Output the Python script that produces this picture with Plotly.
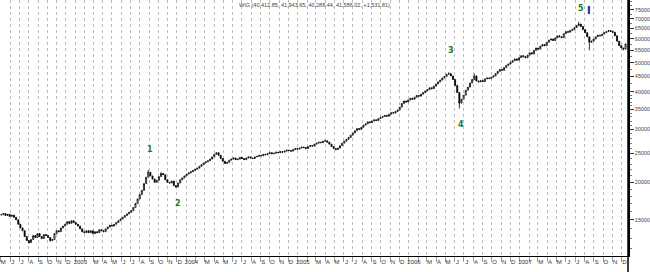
import numpy as np
import pandas as pd
import plotly.graph_objects as go

# Weekly closing values (WIG index)
close = [
    15600, 15750, 15500, 15650, 15400, 15550, 15300,
    15000, 14500, 14100, 13800,
    13200, 12800, 12600, 12900,
    13300, 13100, 13500, 13200, 13000, 13400, 13300, 13100,
    12800, 12900,
    13500, 13800, 13700, 14100, 14300, 14500,
    14800, 14600, 14900, 14700, 14500, 14300,
    14000, 13700, 13600, 13800,
    13600, 13800, 13500, 13700, 13600, 13900, 13800, 13700, 14000,
    14200, 14400, 14300,
    14500, 14700, 14900, 15100, 15300, 15500, 15700, 15900, 16100,
    16500, 17000, 17600, 18200, 18800,
    19800, 20800, 21600,
    21000, 20500, 20000, 20300,
    20900, 21400, 21200,
    20400, 20000, 19900, 20200,
    19500, 19300,
    19900, 20400, 20700,
    21000, 21300, 21500, 21700, 21900, 22100,
    22300, 22600, 22900, 23200, 23400, 23600,
    23900, 24300, 24800, 25100,
    24600, 24000, 23500,
    23100, 23300,
    23700, 23900, 24100, 23800, 23900, 24200, 24000, 23800, 24100, 24300, 24100, 24000, 24300, 24400,
    24600, 24500, 24800, 24700, 24900, 25100, 24900, 25000, 25200, 25100, 25300, 25200, 25400, 25600,
    25500, 25400, 25700, 25900, 25800,
    26000, 26200, 26100, 25900, 26300, 26500, 26400,
    26800, 27000, 27200, 27100, 27400,
    27500, 27200, 26800,
    26300, 25900, 25700, 26000,
    26500, 27000, 27400, 27800, 28200,
    28700, 29200, 29700, 30200, 30000, 30500, 31000,
    31300, 31800, 31600, 32000, 32300, 32100, 32600, 32900,
    33100, 33400, 33200, 33700, 34100, 34000, 34400,
    34800, 35600, 36600, 37300,
    37000, 37600, 38100, 37800, 38400,
    38900, 38700, 39300, 39800, 40300,
    40700, 41300, 41000, 41800,
    42500, 43200, 43800, 44500,
    45000, 45800, 46000,
    45200, 44000,
    42000, 39800, 36700, 37800,
    39000, 40500, 41500,
    42800, 44000, 45200,
    43500, 43200, 43600, 43300,
    44200, 44500, 44300, 44800, 45200,
    46000, 46800, 47500, 47200, 48200, 49000,
    49500, 50200, 50800, 51500, 51000, 52000, 52800, 52400,
    52000, 53000, 54000, 53500, 55000, 56000,
    55500, 56800, 57500, 57000, 58500, 59500,
    60000, 59300, 60500, 61500, 61000, 60600,
    62500, 63500, 63200, 64000, 64500,
    65500, 66500, 67300,
    66000, 64500,
    63000, 61000, 58500,
    59000,
    60000, 61000, 61800, 61500,
    62300, 63000, 63500, 64000, 63600,
    63200, 61500,
    59000, 57000,
    56000, 55500,
    57800,
]
# notable extreme wicks (week index -> value)
high_extremes = {69: 22000, 75: 21600, 210: 46500, 222: 46000, 271: 68500}
low_extremes = {13: 12500, 23: 12700, 82: 19200, 215: 35200, 276: 55000, 292: 55000}

start_date = "2002-05-03"
y_tick_values = [15000, 20000, 25000, 30000, 35000, 40000, 45000, 50000, 55000, 60000, 65000, 70000, 75000]
y_minor_values = list(range(12000, 40000, 1000)) + list(range(40000, 80001, 2500))
title_text = "WIG (40,412.85, 41,943.65, 40,288.44, 41,586.02, +1,531.81)"
wave_labels = [("1", 69, "high", 20), ("2", 82, "low", -16), ("3", 210, "high", 22),
               ("4", 215, "low", -16), ("5", 271, "high", 13)]

dates = pd.date_range(start_date, periods=len(close), freq="7D")
opens = [close[0]] + close[:-1]
highs = [max(o, c) for o, c in zip(opens, close)]
lows = [min(o, c) for o, c in zip(opens, close)]
for k, v in high_extremes.items():
    highs[k] = v
for k, v in low_extremes.items():
    lows[k] = v

fig = go.Figure()
fig.add_trace(go.Candlestick(
    x=dates, open=opens, high=highs, low=lows, close=close,
    increasing=dict(line=dict(color="#000000", width=0.8), fillcolor="#ffffff"),
    decreasing=dict(line=dict(color="#000000", width=0.8), fillcolor="#000000"),
    whiskerwidth=0, showlegend=False, hoverinfo="skip",
))

# month ticks / labels
months = pd.date_range("2002-05-01", "2007-12-01", freq="MS")
letters = "JFMAMJJASOND"
tick_vals, tick_text = [], []
for m in months:
    if m.month == 1:
        tick_vals.append(m + pd.Timedelta(days=17))
        tick_text.append(str(m.year))
    elif m.month == 2:
        continue
    else:
        tick_vals.append(m + pd.Timedelta(days=9))
        tick_text.append(letters[m.month - 1])

fig.update_xaxes(
    type="date", range=["2002-04-29", "2007-12-22"],
    tickmode="array", tickvals=tick_vals, ticktext=tick_text,
    ticks="", showgrid=False, showline=True, linecolor="#000000", linewidth=1,
    tickfont=dict(family="Liberation Sans, Arial", size=6, color="#333333"),
    rangeslider=dict(visible=False), zeroline=False,
    minor=dict(tickmode="array", tickvals=list(months), ticks="outside", ticklen=5,
               tickcolor="#999999", tickwidth=1, showgrid=True, gridcolor="#bdbdbd",
               griddash="dot", gridwidth=1),
)
fig.update_yaxes(
    type="log", side="right",
    range=[np.log10(11370), np.log10(80900)],
    tickmode="array", tickvals=y_tick_values, ticktext=[str(v) for v in y_tick_values],
    ticks="outside", ticklen=4, tickcolor="#333333",
    showgrid=False, showline=True, linecolor="#000000", linewidth=1.5,
    tickfont=dict(family="Liberation Sans, Arial", size=5.5, color="#444444"),
    zeroline=False,
    minor=dict(tickmode="array", tickvals=y_minor_values, ticks="outside", ticklen=2,
               tickcolor="#777777", showgrid=False),
)

annotations = [dict(text=title_text, xref="paper", yref="paper", x=0.5, y=1.0,
                    xanchor="center", yanchor="top", showarrow=False,
                    font=dict(family="Liberation Sans, Arial", size=5.5, color="#444444"))]
for txt, idx, kind, shift in wave_labels:
    val = highs[idx] if kind == "high" else lows[idx]
    annotations.append(dict(text="<b>%s</b>" % txt, x=dates[idx] + pd.Timedelta(days=7),
                            y=np.log10(val),
                            xref="x", yref="y", showarrow=False, yshift=shift,
                            font=dict(family="DejaVu Sans", size=8, color="#1b7d1b")))
annotations.append(dict(text="<b>I</b>", x=dates[276], y=0.99, xref="x", yref="paper",
                        yanchor="top", showarrow=False,
                        font=dict(family="DejaVu Sans", size=10, color="#1c1c8a")))

fig.update_layout(
    width=650, height=272,
    margin=dict(l=0, r=16, t=0, b=16),
    paper_bgcolor="#ffffff", plot_bgcolor="#ffffff",
    annotations=annotations,
    shapes=[dict(type="line", xref="paper", yref="paper", x0=1, x1=1, y0=-0.07, y1=1,
                 line=dict(color="#000000", width=1.5))],
)
fig.write_html("out.html")
